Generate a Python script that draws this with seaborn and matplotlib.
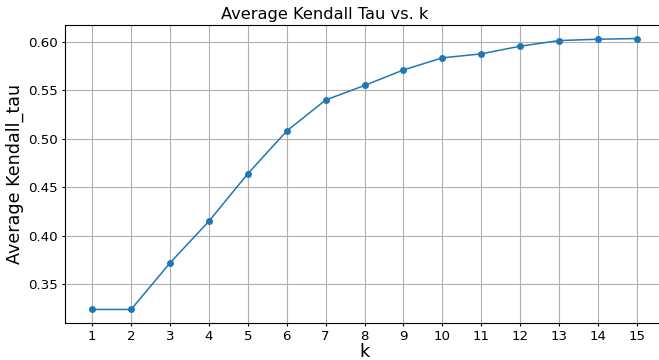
import matplotlib
matplotlib.use('Agg')
import matplotlib.pyplot as plt
import seaborn as sns
import pandas as pd

# values
k_values = [1, 2, 3, 4, 5, 6, 7, 8, 9, 10, 11, 12, 13, 14, 15]
avg_tau = [0.324, 0.324, 0.372, 0.415, 0.464, 0.508, 0.540, 0.555, 0.571,
           0.5835, 0.5876, 0.5955, 0.6013, 0.6027, 0.6034]

df = pd.DataFrame({'k': k_values, 'Average Kendall_tau': avg_tau})

fig = plt.figure(figsize=(6.59, 3.6), dpi=100)
# axes run slightly past the right edge, as in the cropped reference
ax = fig.add_axes([65 / 659, 1 - 323 / 360, (664 - 65) / 659, (323 - 25) / 360])

sns.lineplot(data=df, x='k', y='Average Kendall_tau', marker='o', ax=ax,
             color='#1f77b4', linewidth=1.1, markersize=5, markeredgewidth=0)

fig.text(325 / 659, 1 - 15 / 360, 'Average Kendall Tau vs. k', fontsize=11.7,
         ha='center', va='center')
ax.set_xlabel('k', fontsize=12.5, va='center')
ax.set_ylabel('Average Kendall_tau', fontsize=12.6, va='center')
ax.xaxis.set_label_coords(0.5, -(352 - 323) / 298)
ax.yaxis.set_label_coords(-(65 - 15) / 599, 0.5)
ax.set_xticks(k_values)
ax.tick_params(labelsize=9.6, length=2.4, pad=2.8)
ax.grid(True, color='#b0b0b0', linewidth=0.8)
ax.set_axisbelow(True)

fig.savefig('out.png', dpi=100)
